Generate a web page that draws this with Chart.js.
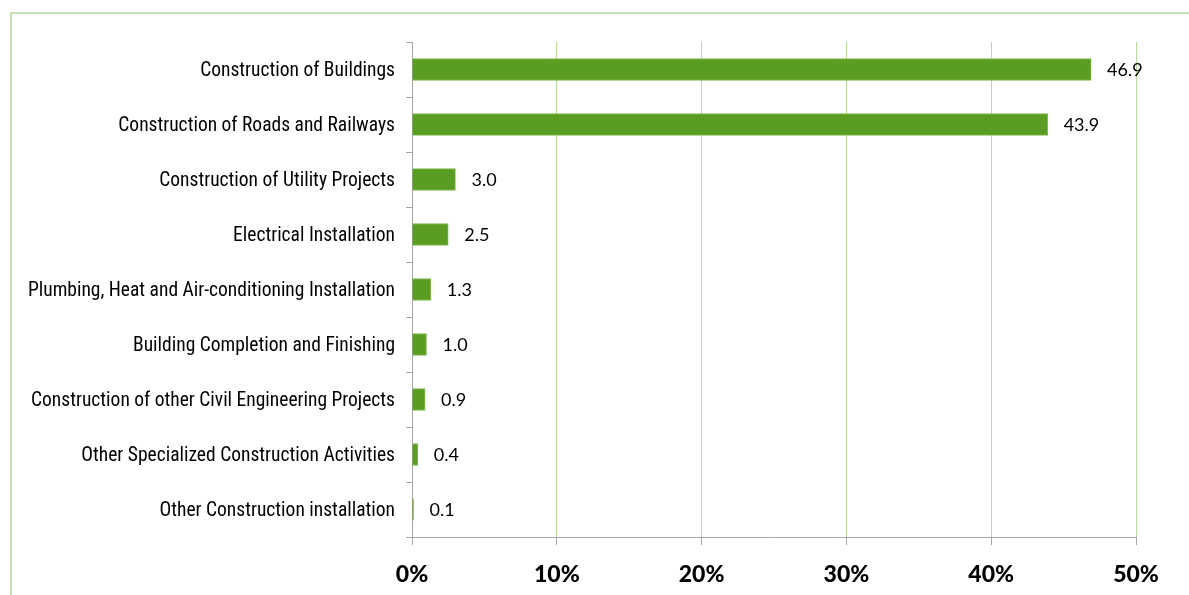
<!DOCTYPE html>
<html>
<head>
<meta charset="utf-8">
<script src="https://cdn.jsdelivr.net/npm/chart.js@4/dist/chart.umd.min.js"></script>
<style>
html,body{margin:0;padding:0;background:#fff;}
#wrap{position:relative;width:1189px;height:595px;}
#frame{position:absolute;left:10px;top:12px;width:1179px;height:583px;border-top:2px solid #c5e0b4;border-left:2px solid #c5e0b4;box-sizing:border-box;}
canvas{position:absolute;left:0;top:0;}
</style>
</head>
<body>
<div id="wrap"><div id="frame"></div><canvas id="c" width="1189" height="595"></canvas></div>
<script>
const categories = [
  "Construction of Buildings",
  "Construction of Roads and Railways",
  "Construction of Utility Projects",
  "Electrical Installation",
  "Plumbing, Heat and Air-conditioning Installation",
  "Building Completion and Finishing",
  "Construction of other Civil Engineering Projects",
  "Other Specialized Construction Activities",
  "Other Construction installation"
];
const shares = [46.9, 43.9, 3.0, 2.5, 1.3, 1.0, 0.9, 0.4, 0.1];
const xTicks = [0, 10, 20, 30, 40, 50];

const valueLabels = {
  id: 'valueLabels',
  afterDatasetsDraw(chart) {
    const ctx = chart.ctx;
    const meta = chart.getDatasetMeta(0);
    ctx.save();
    ctx.font = '18px "Lato", "Open Sans", sans-serif';
    ctx.fillStyle = '#000';
    ctx.textBaseline = 'middle';
    ctx.textAlign = 'left';
    meta.data.forEach((bar, i) => {
      ctx.fillText(shares[i].toFixed(1), bar.x + 16, bar.y + 1);
    });
    ctx.restore();
  }
};

new Chart(document.getElementById('c'), {
  type: 'bar',
  data: {
    labels: categories,
    datasets: [{
      data: shares,
      backgroundColor: '#5b9c22',
      borderColor: '#7fbb4c',
      borderWidth: 1,
      barThickness: 22
    }]
  },
  options: {
    indexAxis: 'y',
    responsive: false,
    animation: false,
    layout: { padding: { top: 42, right: 53, left: 0, bottom: 0 } },
    plugins: { legend: { display: false }, tooltip: { enabled: false } },
    scales: {
      x: {
        min: 0, max: 50,
        afterBuildTicks(scale) { scale.ticks = xTicks.map(v => ({ value: v })); },
        afterFit(scale) { scale.height = 58; },
        grid: {
          color: ctx => (ctx.tick && ctx.tick.value === 0) ? '#a6a6a6' : '#b9dc9e',
          tickColor: '#a6a6a6',
          tickLength: 8,
          lineWidth: 1
        },
        border: { color: '#a6a6a6', width: 1 },
        ticks: {
          callback: v => v + '%',
          color: '#000',
          padding: 16,
          font: { family: '"Lato", "Open Sans", sans-serif', size: 23, weight: 900 }
        }
      },
      y: {
        afterFit(scale) { scale.width = 412; },
        grid: {
          drawOnChartArea: false,
          color: '#a6a6a6',
          tickLength: 6,
          offset: true
        },
        border: { color: '#a6a6a6', width: 1 },
        ticks: {
          color: '#000',
          padding: 11,
          labelOffset: 2,
          font: { family: '"Liberation Sans Narrow", "Roboto Condensed", "Liberation Sans", sans-serif', size: 19.5 }
        }
      }
    }
  },
  plugins: [valueLabels]
});
</script>
</body>
</html>
